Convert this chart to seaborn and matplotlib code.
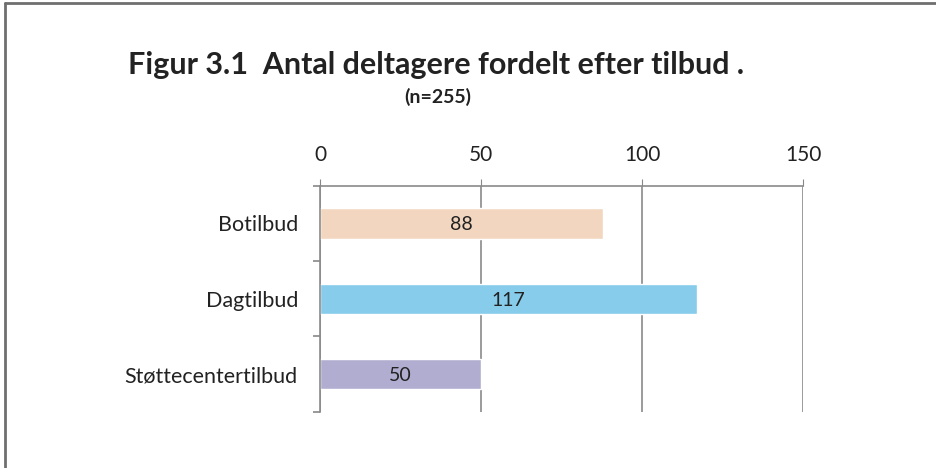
import matplotlib
matplotlib.use("Agg")
import matplotlib.pyplot as plt
from matplotlib.lines import Line2D
import pandas as pd
import seaborn as sns

categories = ["Botilbud", "Dagtilbud", "Støttecentertilbud"]
values = [88, 117, 50]
colors = ["#F2D6C0", "#87CCEB", "#B1ADD0"]
x_ticks = [0, 50, 100, 150]

df = pd.DataFrame({"tilbud": categories, "antal": values})

sns.set_style("white")
plt.rcParams["font.family"] = ["Lato", "DejaVu Sans"]

fig = plt.figure(figsize=(9.36, 4.68), dpi=100)
ax = fig.add_axes([0.342, 0.12, 0.516, 0.483])

sns.barplot(data=df, x="antal", y="tilbud", hue="tilbud", palette=colors,
            orient="h", width=0.4, legend=False, ax=ax, saturation=1)

# labels in the middle of each bar
for i, v in enumerate(values):
    ax.text(v / 2, i, str(v), ha="center", va="center_baseline", fontsize=14,
            color="#222222")

ax.set_xlim(0, 150)
ax.set_ylim(2.5, -0.5)
ax.set_xticks(x_ticks)
ax.xaxis.tick_top()
ax.tick_params(axis="x", which="both", top=True, length=5, color="#888888", labelsize=15,
               pad=10, labelcolor="#222222")
ax.set_yticks([0, 1, 2])
ax.set_yticklabels(categories)
ax.set_yticks([-0.5, 0.5, 1.5, 2.5], minor=True)
ax.tick_params(axis="y", which="major", left=False, length=0, pad=16, labelsize=15.5,
               labelcolor="#222222")
ax.tick_params(axis="y", which="minor", left=True, length=5, width=1.2, color="#888888",
               direction="out")
ax.set_xlabel("")
ax.set_ylabel("")

ax.grid(axis="x", color="#8a8a8a", linewidth=1.2)
ax.set_axisbelow(True)
for side in ["right", "bottom"]:
    ax.spines[side].set_visible(False)
for side in ["left", "top"]:
    ax.spines[side].set_color("#8a8a8a")
    ax.spines[side].set_linewidth(1.2)

fig.text(0.466, 0.862, "Figur 3.1  Antal deltagere fordelt efter tilbud .",
         ha="center", va="center", fontsize=22, fontweight="bold", color="#222222")
fig.text(0.468, 0.792, "(n=255)", ha="center", va="center",
         fontsize=14, fontweight="bold", color="#222222")

fig.add_artist(Line2D([0.005, 0.005], [0, 0.994], transform=fig.transFigure,
                      color="#6f6f6f", linewidth=2))
fig.add_artist(Line2D([0.005, 1], [0.994, 0.994], transform=fig.transFigure,
                      color="#6f6f6f", linewidth=2))

fig.savefig("out.png", dpi=100)
